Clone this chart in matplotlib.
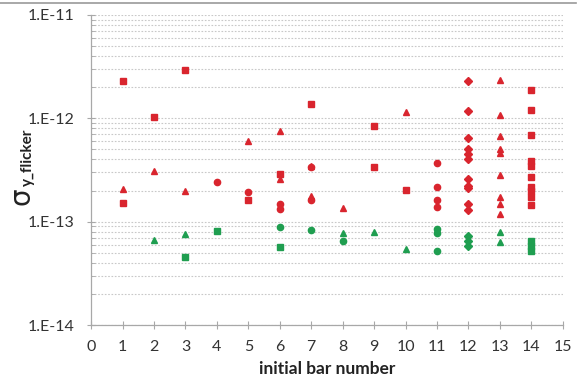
import matplotlib
matplotlib.use("Agg")
import matplotlib.pyplot as plt
from matplotlib.ticker import LogLocator, NullFormatter, FixedLocator
from matplotlib.lines import Line2D

plt.rcParams['font.family'] = ['Lato', 'DejaVu Sans']

# red points
red_sq_x = [1, 1, 2, 3, 5, 6, 7, 9, 9, 10, 14, 14, 14, 14, 14, 14, 14, 14, 14, 14]
red_sq_y = [2.32e-12, 1.53e-13, 1.03e-12, 2.94e-12, 1.63e-13, 2.91e-13, 1.38e-12, 8.5e-13, 3.37e-13, 2.04e-13,
            1.86e-12, 1.21e-12, 6.9e-13, 3.83e-13, 3.47e-13, 2.7e-13, 2.19e-13, 2.0e-13, 1.75e-13, 1.44e-13]
red_ci_x = [4, 5, 6, 6, 7, 7, 11, 11, 11, 11]
red_ci_y = [2.4e-13, 1.96e-13, 1.49e-13, 1.34e-13, 1.63e-13, 3.4e-13, 3.74e-13, 2.19e-13, 1.63e-13, 1.39e-13]
red_tr_x = [1, 2, 3, 5, 6, 6, 7, 7, 8, 10, 13, 13, 13, 13, 13, 13, 13, 13, 13]
red_tr_y = [2.08e-13, 3.1e-13, 2.0e-13, 6.1e-13, 7.57e-13, 2.6e-13, 3.47e-13, 1.78e-13, 1.37e-13, 1.15e-12,
            2.35e-12, 1.08e-12, 6.8e-13, 5.1e-13, 4.6e-13, 2.84e-13, 1.75e-13, 1.49e-13, 1.19e-13]
red_di_x = [12] * 11
red_di_y = [2.32e-12, 1.18e-12, 6.5e-13, 5.04e-13, 4.54e-13, 4.06e-13, 2.6e-13, 2.23e-13, 2.11e-13, 1.49e-13, 1.29e-13]

# green points
grn_tr_x = [2, 3, 8, 9, 10, 13, 13]
grn_tr_y = [6.6e-14, 7.6e-14, 7.8e-14, 7.9e-14, 5.5e-14, 7.9e-14, 6.37e-14]
grn_sq_x = [3, 4, 6, 14, 14, 14]
grn_sq_y = [4.6e-14, 8.2e-14, 5.65e-14, 6.45e-14, 5.86e-14, 5.16e-14]
grn_ci_x = [6, 7, 8, 11, 11, 11]
grn_ci_y = [8.95e-14, 8.3e-14, 6.45e-14, 8.5e-14, 7.8e-14, 5.25e-14]
grn_di_x = [12, 12, 12]
grn_di_y = [7.3e-14, 6.45e-14, 5.86e-14]

RED = '#d9252e'
GREEN = '#1f9e50'

fig = plt.figure(figsize=(5.88, 3.83), dpi=100)
ax = fig.add_axes([0.155, 0.151, 0.802, 0.81])

ms = 4.5
ax.plot(red_sq_x, red_sq_y, 's', color=RED, ms=ms, ls='none')
ax.plot(red_ci_x, red_ci_y, 'o', color=RED, ms=ms, ls='none')
ax.plot(red_tr_x, red_tr_y, '^', color=RED, ms=ms + 0.5, ls='none')
ax.plot(red_di_x, red_di_y, 'D', color=RED, ms=ms - 0.5, ls='none')
ax.plot(grn_tr_x, grn_tr_y, '^', color=GREEN, ms=ms + 0.5, ls='none')
ax.plot(grn_sq_x, grn_sq_y, 's', color=GREEN, ms=ms, ls='none')
ax.plot(grn_ci_x, grn_ci_y, 'o', color=GREEN, ms=ms, ls='none')
ax.plot(grn_di_x, grn_di_y, 'D', color=GREEN, ms=ms - 0.5, ls='none')

ax.set_yscale('log')
ax.set_ylim(1e-14, 1e-11)
ax.set_xlim(0, 15)
ax.set_xticks(range(16))
ax.yaxis.set_major_locator(FixedLocator([1e-14, 1e-13, 1e-12, 1e-11]))
ax.set_yticklabels(['1.E-14', '1.E-13', '1.E-12', '1.E-11'])
ax.yaxis.set_minor_locator(LogLocator(base=10, subs=range(2, 10)))
ax.yaxis.set_minor_formatter(NullFormatter())

ax.grid(True, which='both', axis='y', color='#c8c8c8', ls=(0, (1.5, 1.5)), lw=0.8)
ax.set_axisbelow(True)

for s in ['top', 'right']:
    ax.spines[s].set_visible(False)
for s in ['left', 'bottom']:
    ax.spines[s].set_color('#a8a8a8')
    ax.spines[s].set_linewidth(0.9)

ax.tick_params(axis='x', which='major', direction='inout', length=6, color='#a8a8a8', labelsize=11.5, labelcolor='#333333', pad=8)
ax.tick_params(axis='y', which='major', direction='inout', length=6, color='#a8a8a8', labelsize=11.5, labelcolor='#333333', pad=9)
ax.tick_params(axis='y', which='minor', direction='in', length=3, color='#a8a8a8')

ax.set_xlabel('initial bar number', fontsize=12.5, fontweight='bold', color='#222222', labelpad=5)

# y label: big sigma with bold subscript
fig.text(0.036, 0.488, '\u03c3', rotation=90, ha='center', va='center', fontsize=20, color='#222222',
         family=['DejaVu Sans'])
fig.text(0.047, 0.59, 'y_flicker', rotation=90, ha='center', va='center', fontsize=11,
         fontweight='bold', color='#222222')

fig.add_artist(Line2D([0, 0.98], [0.992, 0.992], color='#999999', lw=1.2, transform=fig.transFigure))

fig.savefig('out.png', dpi=100)
